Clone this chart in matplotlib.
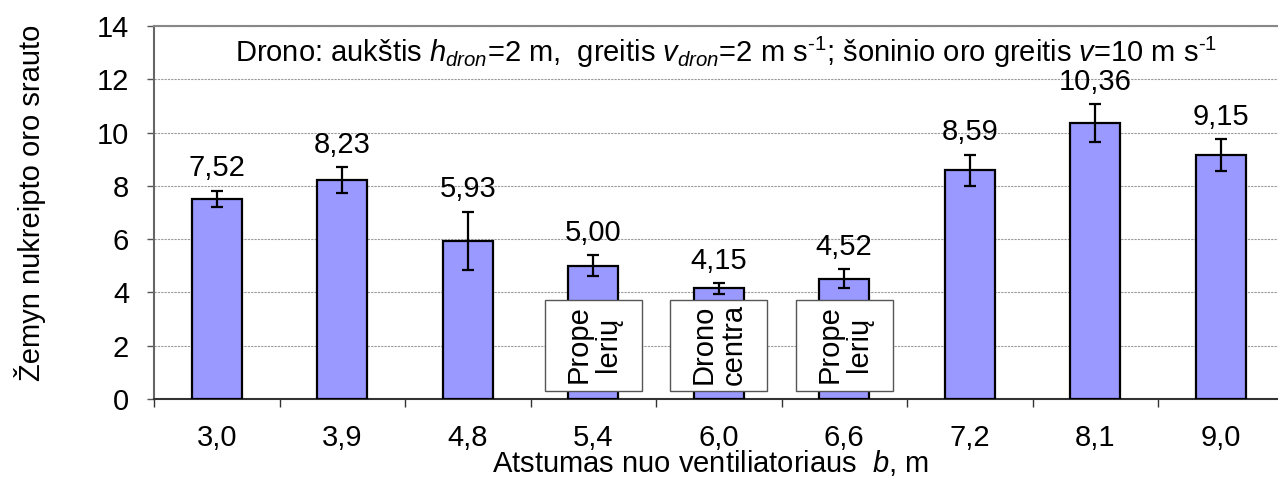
import numpy as np
import matplotlib
matplotlib.use("Agg")
import matplotlib.pyplot as plt
from matplotlib.patches import Rectangle

plt.rcParams['font.family'] = ['Liberation Sans', 'DejaVu Sans']
plt.rcParams['mathtext.fontset'] = 'custom'
plt.rcParams['mathtext.rm'] = 'Liberation Sans'
plt.rcParams['mathtext.it'] = 'Liberation Sans:italic'

# data
distances = ["3,0", "3,9", "4,8", "5,4", "6,0", "6,6", "7,2", "8,1", "9,0"]
values = [7.52, 8.23, 5.93, 5.00, 4.15, 4.52, 8.59, 10.36, 9.15]
errors = [0.30, 0.48, 1.10, 0.40, 0.20, 0.35, 0.58, 0.70, 0.60]
box_labels = {3: "Prope\nlerių", 4: "Drono\ncentra", 5: "Prope\nlerių"}

FS = 21

fig = plt.figure(figsize=(12.78, 4.79), dpi=100)
ax = fig.add_axes([154/1278, 80/479, 1129.5/1278, 373/479])

x = np.arange(len(values))
ax.bar(x, values, width=0.4, color="#9999FF", edgecolor="black", linewidth=1.6, zorder=3)
ax.errorbar(x, values, yerr=errors, fmt="none", ecolor="black", elinewidth=1.6,
            capsize=4.5, capthick=1.6, zorder=4)

for xi, v, e in zip(x, values, errors):
    ax.annotate(f"{v:.2f}".replace(".", ","), (xi, v + e), xytext=(0, 6),
                textcoords="offset points", ha="center", va="bottom", fontsize=FS)

for xi, lab in box_labels.items():
    ax.add_patch(Rectangle((xi - 0.385, 0.3), 0.77, 3.4, facecolor="white",
                           edgecolor="#555555", linewidth=1.0, zorder=5))
    ax.text(xi, 2.05, lab, rotation=90, ha="center", va="center",
            multialignment="center", fontsize=FS, zorder=6, linespacing=1.1)

ax.set_xlim(-0.5, len(values) - 0.5)
ax.set_ylim(0, 14)
ax.set_yticks(np.arange(0, 15, 2))
ax.set_xticks(x)
ax.set_xticklabels(distances, fontsize=FS)
ax.set_xticks(np.arange(-0.5, len(values), 1), minor=True)
ax.tick_params(axis="x", which="major", length=0, pad=18)
ax.tick_params(axis="x", which="minor", length=6, width=1.0, color="#333333")
ax.tick_params(axis="y", length=5, width=1.0, color="#555555", labelsize=FS, pad=13)

ax.grid(axis="y", color="#999999", linestyle=(0, (2, 1)), linewidth=0.8, zorder=0)
ax.set_axisbelow(True)

ax.spines["top"].set_color("#888888")
ax.spines["top"].set_linewidth(1.5)
ax.spines["left"].set_color("#666666")
ax.spines["left"].set_linewidth(1.5)
ax.spines["bottom"].set_color("#333333")
ax.spines["bottom"].set_linewidth(1.5)
ax.spines["right"].set_visible(False)

ax.text(4.06, 13.0,
        "Drono: aukštis $h_{dron}$=2 m,  greitis $v_{dron}$=2 m s$^{\\mathrm{\u20101}}$; "
        "šoninio oro greitis $v$=10 m s$^{\\mathrm{\u20101}}$",
        ha="center", va="center", fontsize=FS)

fig.text(30/1278, 0.576, "Žemyn nukreipto oro srauto", rotation=90,
         ha="center", va="center", fontsize=FS)
fig.text(0.5556, 0.034, r"Atstumas nuo ventiliatoriaus  $b$, m",
         ha="center", va="center", fontsize=FS)

fig.savefig("out.png", dpi=100)
